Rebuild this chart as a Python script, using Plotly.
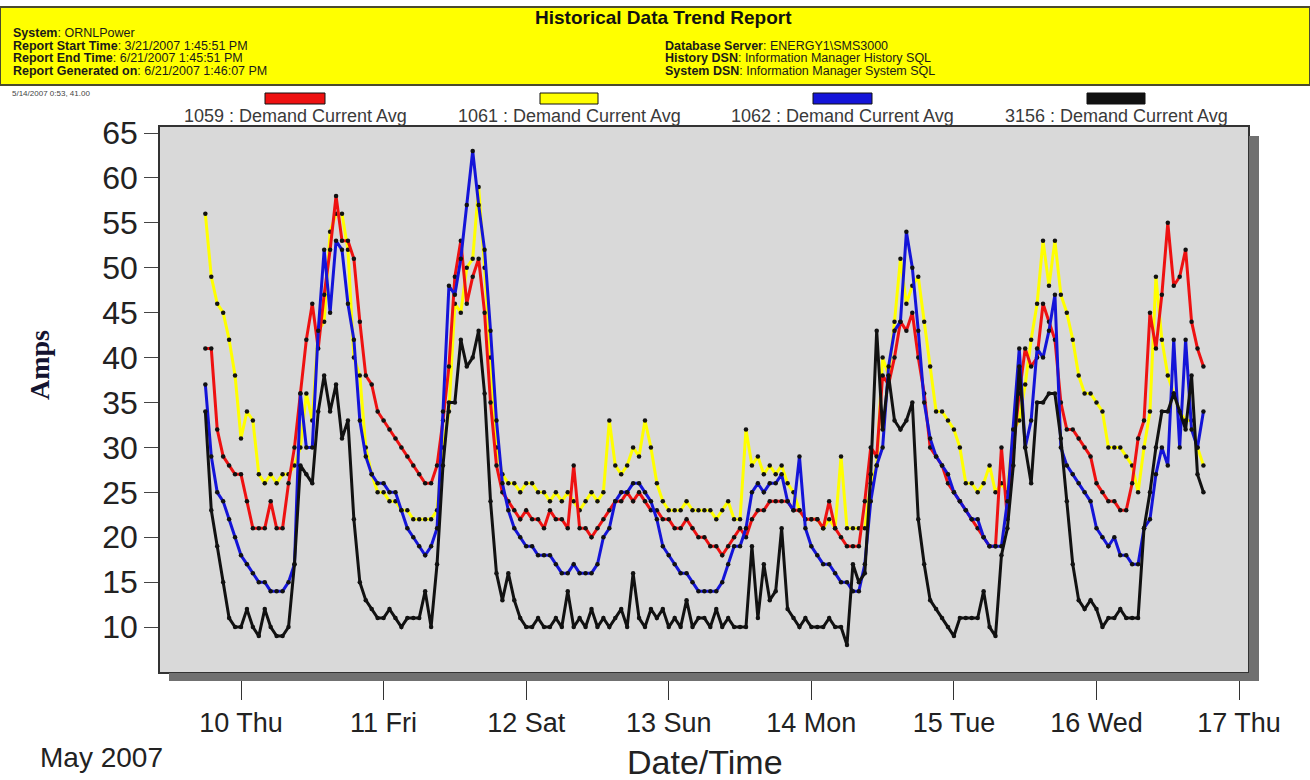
import pandas as pd
import plotly.graph_objects as go

# ---------------- data ----------------
start_time = "2007-05-09 18:00"
n_points = 169  # hourly samples

s1059 = [41, 41, 32, 29, 28, 27, 27, 24, 21, 21, 21, 24,
         21, 21, 26, 30, 36, 42, 46, 41, 47, 52, 58, 53,
         53, 51, 44, 38, 37, 34, 33, 32, 31, 30, 29, 28,
         27, 26, 26, 28, 33, 39, 49, 53, 46, 49, 51, 45,
         35, 28, 25, 24, 23, 22, 23, 22, 22, 21, 23, 22,
         22, 21, 28, 21, 21, 20, 21, 22, 23, 24, 24, 25,
         24, 25, 24, 23, 23, 22, 22, 21, 21, 22, 21, 20,
         20, 19, 19, 18, 19, 20, 21, 20, 22, 23, 23, 24,
         24, 24, 24, 23, 23, 22, 22, 22, 21, 24, 21, 20,
         19, 19, 19, 24, 30, 29, 38, 37, 40, 44, 43, 45,
         40, 36, 30, 29, 28, 26, 25, 24, 23, 22, 21, 20,
         19, 19, 30, 22, 30, 36, 41, 39, 40, 46, 44, 42,
         35, 32, 32, 31, 30, 29, 26, 25, 24, 24, 23, 23,
         26, 31, 33, 45, 41, 47, 55, 48, 49, 52, 44, 41, 39]

s1061 = [56, 49, 46, 45, 42, 38, 31, 34, 33, 27, 26, 27,
         26, 27, 27, 28, 30, 36, 33, 43, 44, 54, 56, 56,
         52, 40, 38, 30, 27, 25, 25, 24, 24, 23, 23, 22,
         22, 22, 22, 23, 30, 34, 46, 45, 50, 51, 59, 50,
         40, 30, 27, 26, 26, 25, 26, 26, 25, 25, 24, 25,
         24, 25, 24, 23, 24, 25, 24, 25, 33, 28, 27, 28,
         30, 29, 33, 30, 26, 24, 23, 23, 23, 24, 23, 23,
         23, 23, 22, 23, 24, 22, 22, 32, 28, 29, 27, 28,
         27, 28, 26, 25, 23, 22, 22, 22, 21, 22, 21, 29,
         21, 21, 21, 21, 26, 28, 40, 38, 44, 51, 46, 48,
         49, 44, 39, 34, 34, 33, 32, 30, 26, 26, 25, 26,
         28, 25, 26, 25, 32, 33, 37, 42, 46, 53, 48, 53,
         47, 45, 42, 38, 36, 36, 35, 34, 30, 30, 30, 29,
         28, 25, 30, 34, 49, 42, 38, 36, 34, 33, 33, 30, 28]

s1062 = [37, 29, 25, 24, 22, 20, 18, 17, 16, 15, 15, 14,
         14, 14, 15, 17, 36, 30, 30, 43, 52, 45, 53, 52,
         46, 42, 33, 29, 27, 26, 26, 25, 25, 23, 21, 20,
         19, 18, 19, 21, 34, 48, 47, 51, 57, 63, 57, 52,
         43, 33, 26, 23, 21, 20, 19, 19, 18, 18, 18, 17,
         16, 16, 17, 16, 16, 16, 17, 20, 21, 24, 25, 25,
         26, 26, 25, 24, 22, 19, 18, 17, 16, 16, 15, 14,
         14, 14, 14, 15, 17, 19, 19, 21, 25, 26, 25, 26,
         26, 27, 24, 23, 29, 21, 19, 18, 17, 17, 16, 15,
         15, 14, 14, 17, 24, 28, 30, 39, 43, 44, 54, 50,
         43, 35, 31, 29, 28, 27, 25, 24, 23, 22, 22, 20,
         19, 19, 19, 24, 32, 41, 30, 33, 41, 40, 43, 47,
         30, 28, 27, 26, 25, 24, 21, 20, 19, 20, 18, 18,
         17, 17, 21, 22, 27, 30, 28, 42, 30, 42, 32, 30, 34]

s3156 = [34, 23, 19, 15, 11, 10, 10, 12, 10, 9, 12, 10,
         9, 9, 10, 17, 28, 27, 26, 34, 38, 34, 37, 31,
         33, 22, 15, 13, 12, 11, 11, 12, 11, 10, 11, 11,
         11, 14, 10, 17, 28, 35, 35, 42, 39, 40, 43, 36,
         24, 16, 13, 16, 13, 11, 10, 10, 11, 10, 10, 11,
         10, 14, 10, 11, 10, 12, 10, 11, 10, 11, 12, 10,
         16, 11, 10, 12, 11, 12, 10, 11, 10, 13, 10, 11,
         11, 10, 12, 10, 11, 10, 10, 10, 19, 11, 17, 13,
         14, 21, 12, 11, 10, 11, 10, 10, 10, 11, 10, 10,
         8, 17, 15, 16, 27, 43, 32, 38, 33, 32, 33, 35,
         22, 17, 13, 12, 11, 10, 9, 11, 11, 11, 11, 14,
         10, 9, 18, 21, 28, 39, 30, 26, 35, 35, 36, 36,
         31, 24, 17, 13, 12, 13, 12, 10, 11, 11, 12, 11,
         11, 11, 21, 25, 30, 34, 34, 36, 34, 32, 38, 27, 25]

series_names = ["1059 : Demand Current Avg", "1061 : Demand Current Avg",
                "1062 : Demand Current Avg", "3156 : Demand Current Avg"]
series_colors = ["#ee1111", "#ffff00", "#1414d8", "#111111"]

day_ticks = ["2007-05-10", "2007-05-11", "2007-05-12", "2007-05-13",
             "2007-05-14", "2007-05-15", "2007-05-16", "2007-05-17"]
day_labels = ["10 Thu", "11 Fri", "12 Sat", "13 Sun", "14 Mon", "15 Tue", "16 Wed", "17 Thu"]
y_ticks = [10, 15, 20, 25, 30, 35, 40, 45, 50, 55, 60, 65]

header_left = [("System", "ORNLPower"),
               ("Report Start Time", "3/21/2007 1:45:51 PM"),
               ("Report End Time", "6/21/2007 1:45:51 PM"),
               ("Report Generated on", "6/21/2007 1:46:07 PM")]
header_right = [("Database Server", "ENERGY1\\SMS3000"),
                ("History DSN", "Information Manager History SQL"),
                ("System DSN", "Information Manager System SQL")]

# ---------------- layout helpers ----------------
W, H = 1310, 780
PL, PR, PT, PB = 160, 1248, 127, 672


def fx(x):
    return (x - PL) / (PR - PL)


def fy(y):
    return (PB - y) / (PB - PT)


times = pd.date_range(start_time, periods=n_points, freq="h")
x_range = ["2007-05-09 10:22", "2007-05-17 01:30"]
y_range = [5, 65.67]

fig = go.Figure()
all_series = [s1059, s1061, s1062, s3156]
draw_order = [1, 0, 2, 3]
for i in draw_order:
    fig.add_trace(go.Scatter(
        x=times, y=all_series[i], mode="lines+markers", name=series_names[i],
        line=dict(color=series_colors[i], width=3),
        marker=dict(color="#111111", size=4.5),
        showlegend=False, hoverinfo="x+y+name"))

font_main = "Arial, Liberation Sans, sans-serif"

fig.update_layout(
    width=W, height=H, autosize=False,
    margin=dict(l=PL, r=W - PR, t=PT, b=H - PB),
    paper_bgcolor="white", plot_bgcolor="#d9d9d9",
    font=dict(family=font_main, color="#222"),
    xaxis=dict(range=x_range, type="date", tickvals=day_ticks, ticktext=day_labels,
               ticks="outside", ticklen=26, tickwidth=1, tickcolor="#333",
               tickfont=dict(size=27, color="#222"),
               showgrid=False, zeroline=False, showline=True, mirror=True,
               linecolor="#333", linewidth=1.5),
    xaxis2=dict(range=x_range, type="date", overlaying="x", anchor="y", side="bottom",
                tickvals=day_ticks, ticks="inside", ticklen=17, tickwidth=1, tickcolor="#333",
                showticklabels=False, showgrid=False, zeroline=False, showline=False),
    yaxis=dict(range=y_range, tickvals=y_ticks, ticks="outside", ticklen=14, tickwidth=1,
               tickcolor="#444", tickfont=dict(size=32, color="#222"),
               showgrid=False, zeroline=False, showline=True, mirror=True,
               linecolor="#333", linewidth=1.5),
    yaxis2=dict(range=y_range, overlaying="y", anchor="x", side="left",
                tick0=0, dtick=0.5, ticks="inside", ticklen=16, tickwidth=1, tickcolor="#555",
                showticklabels=False, showgrid=False, zeroline=False, showline=False),
)

shapes = []
annotations = []

# header band
shapes.append(dict(type="rect", xref="paper", yref="paper",
                   x0=fx(0), x1=fx(1310), y0=fy(85), y1=fy(7),
                   fillcolor="#ffff00", line=dict(color="#4b4b2e", width=2), layer="above"))
annotations.append(dict(x=fx(663), y=fy(17), xref="paper", yref="paper",
                        text="<b>Historical Data Trend Report</b>", showarrow=False,
                        xanchor="center", yanchor="middle",
                        font=dict(size=19, color="#111", family=font_main)))
for k, (lab, val) in enumerate(header_left):
    annotations.append(dict(x=fx(11), y=fy(33 + k * 12.7), xref="paper", yref="paper",
                            text=f"<b>{lab}</b>: {val}", showarrow=False,
                            xanchor="left", yanchor="middle",
                            font=dict(size=12.5, color="#1a1a1a", family=font_main)))
for k, (lab, val) in enumerate(header_right):
    annotations.append(dict(x=fx(663), y=fy(45.7 + k * 12.7), xref="paper", yref="paper",
                            text=f"<b>{lab}</b>: {val}", showarrow=False,
                            xanchor="left", yanchor="middle",
                            font=dict(size=12.5, color="#1a1a1a", family=font_main)))

annotations.append(dict(x=fx(10), y=fy(93), xref="paper", yref="paper",
                        text="5/14/2007 0:53, 41.00", showarrow=False,
                        xanchor="left", yanchor="middle",
                        font=dict(size=8, color="#444", family=font_main)))

# legend: swatches + labels
swatch_x = [(265, 325), (540, 598), (813, 872), (1087, 1145)]
for (x0, x1), col, name in zip(swatch_x, series_colors, series_names):
    shapes.append(dict(type="rect", xref="paper", yref="paper",
                       x0=fx(x0), x1=fx(x1), y0=fy(104), y1=fy(93),
                       fillcolor=col, line=dict(color="#111", width=1)))
    annotations.append(dict(x=fx((x0 + x1) / 2), y=fy(116), xref="paper", yref="paper",
                            text=name, showarrow=False, xanchor="center", yanchor="middle",
                            font=dict(size=18, color="#3a3a3a", family=font_main)))

# plot shadow (right and bottom)
shapes.append(dict(type="rect", xref="paper", yref="paper",
                   x0=fx(PR + 1), x1=fx(PR + 11), y0=fy(PB + 9), y1=fy(PT + 9),
                   fillcolor="#707070", line=dict(width=0)))
shapes.append(dict(type="rect", xref="paper", yref="paper",
                   x0=fx(PL + 9), x1=fx(PR + 11), y0=fy(PB + 9), y1=fy(PB + 1),
                   fillcolor="#707070", line=dict(width=0)))

# axis titles and extra text
annotations.append(dict(x=fx(39), y=fy(365), xref="paper", yref="paper",
                        text="<b>Amps</b>", showarrow=False, textangle=-90,
                        xanchor="center", yanchor="middle",
                        font=dict(size=28, color="#141430",
                                  family="Times New Roman, Liberation Serif, serif")))
annotations.append(dict(x=fx(705), y=fy(762), xref="paper", yref="paper",
                        text="Date/Time", showarrow=False,
                        xanchor="center", yanchor="middle",
                        font=dict(size=34, color="#222", family=font_main)))
annotations.append(dict(x=fx(101), y=fy(757), xref="paper", yref="paper",
                        text="May 2007", showarrow=False,
                        xanchor="center", yanchor="middle",
                        font=dict(size=28, color="#222", family=font_main)))

fig.update_layout(shapes=shapes, annotations=annotations)

fig.write_html("out.html", post_script="document.body.style.margin='0';",
               config={"displayModeBar": False})
